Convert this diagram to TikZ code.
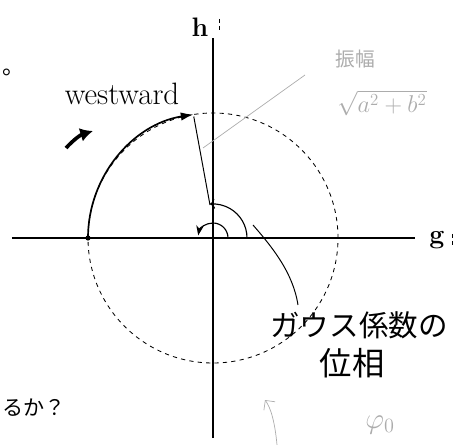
\documentclass[tikz,border=0pt]{standalone}
\usepackage{fontspec}
\newfontfamily\jpfont{Noto Sans CJK JP}
\usetikzlibrary{arrows.meta}
\begin{document}
\begin{tikzpicture}[x=0.025cm,y=0.025cm,every node/.style={font=\fontsize{19}{22}\selectfont},
	pencil/.style={gray!65,line width=0.5pt}]
	\useasboundingbox (-213,-207) rectangle (259,238);
	% axes and circle
	\draw[line width=0.9pt] (-201,0) -- (202,0);
	\draw[line width=0.9pt] (0,-200) -- (0,200);
	\draw[dashed,line width=0.6pt] (0,0) circle (125);
	\draw[line width=1.2pt,-{Latex[length=9pt,width=6pt]}] (180:125) arc (180:99:125);
	\fill (180:125) circle (2.6);
	\draw[line width=0.7pt] (-3,33) -- (99:123);
	\draw[line width=0.8pt,->] (0:34) arc (0:95:34);
	\draw[line width=0.8pt,-{Stealth[length=7pt]}] (0:15) arc (0:170:15);
	% labels
	\node (h) at (-13,211) {\bfseries h};
	\node (g) at (224,-2) {\bfseries g};
	\foreach \x/\y in {6/213,239/-2} {
		\draw[line width=0.6pt] (\x,\y+6) -- (\x,\y+2);
		\draw[line width=0.6pt] (\x,\y-1) -- (\x,\y-5);
	}
	\node[font=\fontsize{22}{24}\selectfont] (west) at (-91,144) {westward};
	\draw[line width=2.6pt,-{Latex[length=9pt,width=10pt]}] (-147,90) to[bend left=15] (-120,107);
	\node[pencil,inner sep=1pt,font=\jpfont\fontsize{14}{16}\selectfont] (amp) at (142,179) {振幅};
	\node[pencil,inner sep=1pt,font=\fontsize{18}{20}\selectfont] (root) at (169,135) {$\sqrt{a^2+b^2}$};
	\draw[pencil] (92,163) -- (-10,90);
	\node[font=\jpfont\fontsize{21}{24}\selectfont] (gauss) at (146,-87) {ガウス係数の};
	\node[font=\jpfont\fontsize{23}{26}\selectfont] (phase) at (139,-125) {位相};
	\draw[line width=0.7pt] (40,13) .. controls (60,-10) and (80,-35) .. (85,-67);
	\node[pencil,font=\fontsize{20}{22}\selectfont] (phi) at (167,-187) {$\varphi_0$};
	\draw[pencil,-{Straight Barb[length=5pt]}] (64,-207) .. controls (62,-185) and (58,-170) .. (52,-162);
	% page text at the edge
	\node[font=\jpfont\fontsize{16}{18}\selectfont] (dot) at (-199,166) {。};
	\node[anchor=west,inner sep=1pt,font=\jpfont\fontsize{15}{18}\selectfont] (ask) at (-212,-170) {るか？};
\end{tikzpicture}
\end{document}
